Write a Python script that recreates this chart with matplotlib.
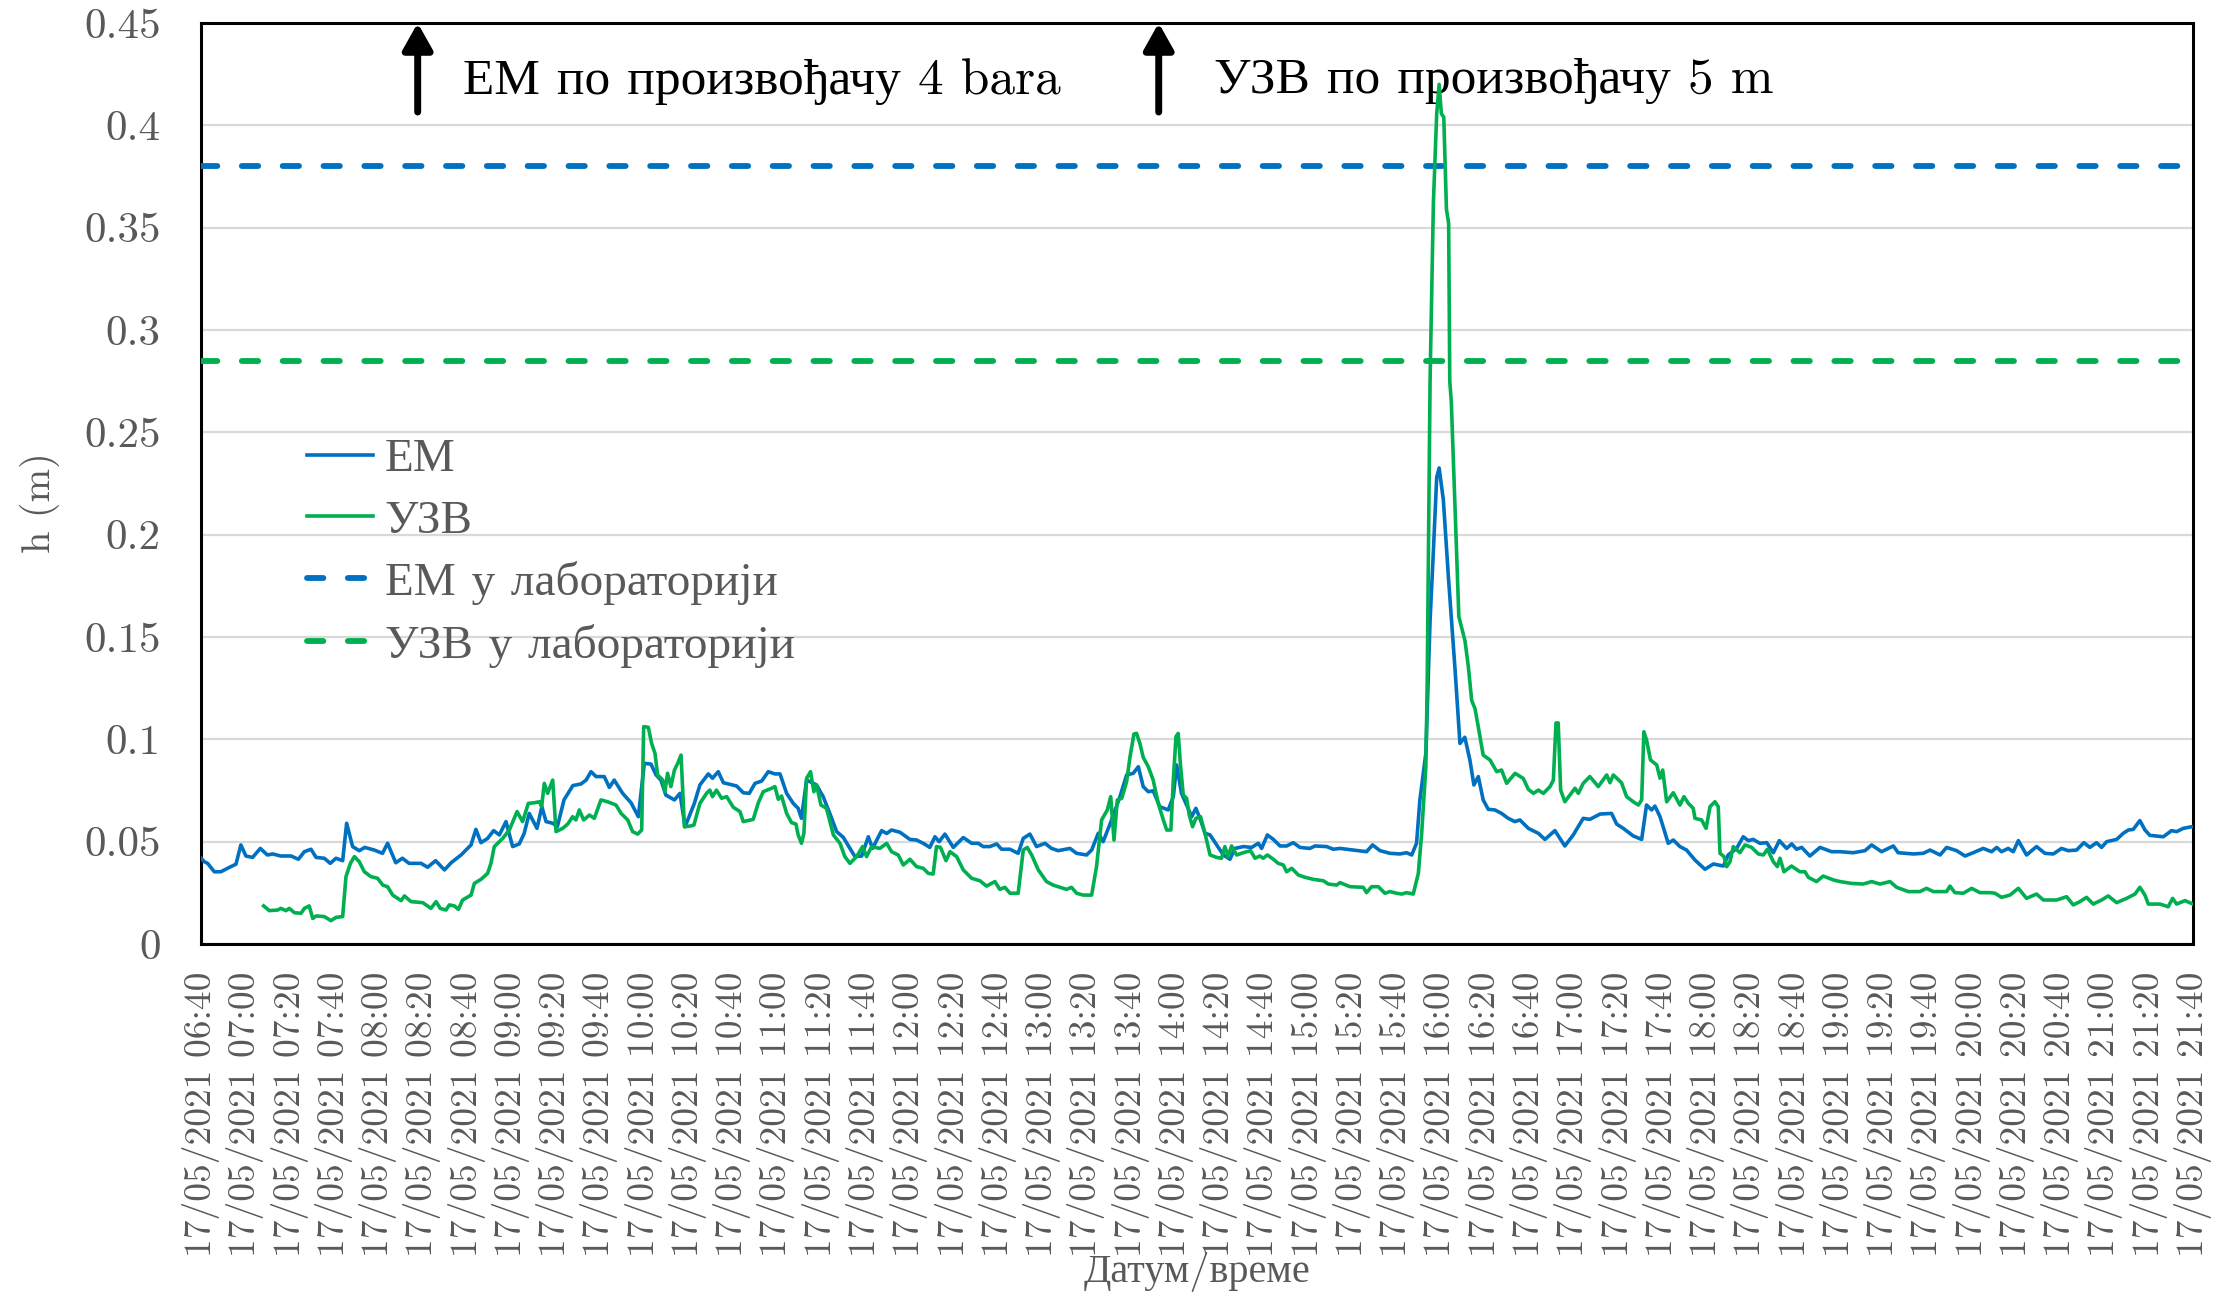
import matplotlib
matplotlib.use("Agg")
import matplotlib.pyplot as plt
import matplotlib.dates as mdates
from datetime import datetime, timedelta

plt.rcParams["font.family"] = ["cmr10", "Liberation Serif"]
plt.rcParams["axes.unicode_minus"] = False

# minutes after 17/05/2021 06:40, and measured depth h (m)
em_min = [0, 1.5, 3, 6, 9, 12, 15.8, 18, 20.3, 23.3, 26.8, 30, 32.4, 36, 40.7, 44, 46.7, 49.7, 52, 55.7,
          58.4, 61, 64, 65.8, 68.5, 71.5, 74, 78.3, 82, 84.3, 88, 91, 94, 99.4, 102.4, 106, 110, 113, 117.5, 122,
          124.2, 126.5, 129.5, 132.2, 134.8, 137.8, 140.8, 143.8, 146, 148.3, 151.8, 154, 155.9, 158.9, 161, 164,
          168, 171.7, 174, 176.2, 178.5, 182.2, 184.5, 186.7, 190.5, 194.3, 197.6, 200.3, 203.3, 205.6, 207.8, 210,
          213.9, 216.4, 218.7, 222.9, 225.4, 229.2, 231.1, 233.7, 236, 242, 245, 247.7, 250.3, 253.3, 256.3, 259.3,
          261.6, 264.6, 267.6, 269.8, 271.3, 273.6, 278.1, 281.1, 284.1, 287.2, 290.2, 293.2, 295.5, 298.5, 301.5,
          303.4, 307.5, 309.8, 312, 315.8, 320.3, 323.3, 326.3, 329.3, 331.6, 333.5, 336.1, 339.9, 344.4, 348.2,
          351.2, 353.4, 356.4, 359.5, 361.7, 365.5, 369.2, 371.5, 374.5, 377.5, 381.3, 384.3, 387.3, 392.6, 395.6,
          400.1, 402.4, 405.4, 407.6, 411.4, 415.2, 418.2, 421.2, 423.5, 425.7, 428, 430.2, 433.2, 437, 439.3,
          440.8, 443, 447.6, 449.5, 451.6, 453.6, 455.9, 458.9, 461.9, 464.9, 467.1, 470.9, 474.7, 477.7, 479.2,
          481.8, 484.5, 487.5, 490.5, 493.5, 496.5, 501, 503.3, 508.6, 511.6, 514.6, 520.6, 526.6, 529.3, 532.7,
          537.2, 541.7, 544.7, 547, 549.2, 550.7, 553.4, 555.3, 556.8, 558.3, 559.4, 561.3, 563.6, 566.5, 568.8,
          571, 573.3, 575.1, 577.1, 579.3, 581.6, 584.6, 587.6, 590.6, 593.6, 595.9, 599.7, 604.2, 607.2, 611.7,
          614, 616.2, 620, 624.5, 627.5, 632.1, 637.3, 639.6, 642.6, 647.1, 650.9, 653.1, 655.4, 656.9, 659.2,
          662.9, 665.2, 668.2, 671.2, 675, 679.5, 683.3, 687.8, 690, 693.8, 696.8, 699.1, 701.3, 704.3, 707.4,
          710.4, 713.1, 716.4, 718.7, 720.9, 723.2, 726.9, 731.5, 736.7, 740.5, 746.5, 751.8, 754.8, 759.3, 764.6,
          766.8, 773.6, 778.1, 781.2, 785.7, 788.7, 793.2, 797, 800.7, 805.2, 809, 811.3, 813.5, 816.5, 818.8,
          821.1, 824.8, 829.3, 833.1, 836.9, 840.6, 843.6, 847.4, 850.7, 853.4, 856.4, 858.7, 861, 865.5, 868.5,
          870.8, 873, 876, 878.3, 880.5, 886.6, 890.3, 892.6, 895.6, 899.4, 900]
em_h = [.042, .0402, .0394, .0353, .0353, .037, .039, .0484, .043, .0423, .0467, .0435, .044, .043, .043, .0414,
        .0451, .0463, .0423, .0419, .0394, .0419, .0407, .059, .0476, .0456, .0472, .0459, .0443, .0492, .0397,
        .0419, .0394, .0394, .0375, .0407, .0362, .0397, .0435, .0484, .056, .0495, .0516, .0554, .0533, .0598,
        .0476, .0489, .054, .0638, .0565, .0671, .0598, .059, .0573, .0704, .0774, .0782, .0801, .0842, .0818,
        .0818, .0765, .0801, .0736, .069, .0622, .0883, .0879, .0826, .0801, .0728, .0704, .0736, .0573, .0687,
        .0777, .0831, .081, .0842, .0788, .0772, .0739, .0736, .0785, .0796, .0842, .0831, .0831, .0736, .0687,
        .0663, .0614, .0801, .0777, .072, .0638, .0549, .0521, .0467, .0427, .043, .0524, .0467, .0554, .054,
        .0557, .0546, .0511, .0508, .0492, .0472, .0524, .05, .0537, .0472, .052, .0492, .0492, .0476, .0476,
        .0489, .0463, .0463, .0443, .0516, .0537, .0476, .0492, .0467, .0456, .0467, .0443, .0435, .0459, .0541,
        .05, .0606, .072, .0826, .0834, .0866, .0769, .0744, .0749, .0671, .0655, .072, .0875, .0736, .0622,
        .0663, .0606, .0541, .0533, .0484, .0435, .0414, .0467, .0476, .0472, .0492, .0467, .0533, .0511, .0479,
        .0479, .0495, .0472, .0467, .0479, .0476, .0463, .0467, .0459, .0451, .0484, .0456, .0443, .044, .0446,
        .0435, .0492, .0704, .0932, .158, .192, .228, .2326, .217, .179, .1355, .098, .101, .0899, .0777, .0818,
        .0704, .0658, .0655, .0638, .0614, .0598, .0606, .0565, .0541, .0511, .0554, .0516, .0479, .0533, .0614,
        .0609, .0635, .0638, .0586, .0565, .0528, .0511, .0679, .0655, .0674, .0622, .0492, .0508, .0476, .0459,
        .041, .0365, .0391, .0381, .0435, .0467, .0524, .0505, .0511, .0492, .0495, .0446, .0505, .0467, .0489,
        .0463, .0472, .043, .0472, .0451, .0451, .0446, .0456, .0484, .0451, .0479, .0446, .044, .0443, .0459,
        .0435, .0472, .0456, .043, .0446, .0467, .0451, .0472, .0451, .0467, .0451, .0505, .0435, .0476, .0443,
        .044, .0467, .0456, .0459, .0495, .0472, .0495, .0472, .05, .0511, .0541, .0557, .056, .0603, .0557,
        .0531, .0524, .0554, .0549, .0565, .0573, .0573]

uzv_min = [28.3, 30.9, 34.6, 36.1, 38.4, 39.9, 42.2, 45.2, 46.7, 48.9, 50.5, 52, 55.7, 58.7, 61, 64, 65.5, 67.5,
           69.3, 71.5, 73.8, 76.8, 79.8, 82.1, 84.3, 86.6, 90.4, 91.9, 94.9, 100.2, 103.9, 106.2, 108.1, 110.7,
           112.2, 114.5, 116.3, 118.2, 122, 123.5, 126.5, 129.5, 131, 132.5, 136.3, 139.3, 142.8, 145.3, 147.9,
           150.6, 152.9, 153.9, 155.1, 156.6, 158.9, 160.4, 163.4, 165.7, 167.9, 169.4, 170.9, 172.9, 175.5,
           177.7, 180.7, 183.7, 187.5, 189.8, 192.8, 195, 197.3, 199.1, 200, 202.1, 203.6, 205.1, 206.3, 208.6,
           209.6, 210.8, 212.3, 213.9, 215.4, 216.9, 218.4, 221.4, 222.7, 225.4, 228.4, 229.9, 231.1, 232.9, 235.2,
           237.5, 240.5, 243.5, 245, 249.5, 251.8, 254, 257.8, 259.3, 260.8, 262.3, 264.6, 266.8, 268.8, 269.8,
           271.3, 272.4, 273.6, 275.4, 276.9, 278.1, 280.1, 282.6, 285.7, 288.7, 290.9, 293.2, 296.2, 298.9, 300.7,
           303, 306.7, 309.8, 312, 315, 317.3, 320.3, 323.3, 326.3, 328.6, 330.8, 332.3, 334.1, 336.6, 338.4,
           341.4, 344.4, 348.2, 351.9, 354.9, 358.7, 360.9, 363.2, 365.5, 369.2, 371.5, 373.3, 375.3, 378.3, 382,
           385, 388.1, 391.1, 393.3, 395.6, 398.6, 402.4, 404.6, 406.9, 409.5, 411, 412.5, 414, 416, 418.2, 419.7,
           421.5, 422.7, 424.2, 425.7, 428, 430.2, 432.5, 434.8, 436.3, 438.2, 439.3, 440.5, 441.5, 442.6, 443.8,
           445.3, 446.5, 448, 449.5, 451.6, 453.6, 455.9, 458.9, 461.1, 462.6, 464.1, 465.6, 467.9, 470.9, 474.2,
           476.2, 478.4, 479.9, 481.8, 484.5, 486.7, 489, 490.5, 492.8, 495.8, 498.8, 502.5, 507.1, 509.3, 513.1,
           514.6, 519.1, 525.1, 526.6, 528.9, 531.9, 534.9, 537.2, 540.2, 542.5, 544.7, 547.7, 550, 551.5, 553.4,
           554, 555.3, 556.8, 558.3, 559.4, 560.4, 561.5, 562.7, 563.7, 564.2, 564.9, 568.3, 571.1, 572.6, 574.1,
           575.6, 577.1, 579.3, 582.4, 585.4, 587.6, 589.9, 593.7, 597.4, 599.7, 602, 604.2, 606.5, 609.5, 611,
           612.2, 613.2, 614.3, 616.2, 618.5, 620.8, 622.3, 624.5, 627.5, 631.3, 635.1, 636.6, 638.1, 641.8,
           644.1, 647.1, 649.4, 650.9, 651.9, 653.1, 654.9, 657.7, 659.2, 660.4, 662.2, 665.2, 668.2, 670, 672,
           674.2, 675, 678, 680, 681.8, 684, 685.5, 686.3, 688.1, 689.3, 690.8, 692.3, 695.3, 697.6, 700.6, 703.6,
           705.9, 707.7, 710.4, 712.2, 713.4, 715.2, 718.6, 722.4, 724.7, 726.2, 729.9, 732.9, 737.5, 740.5,
           745.8, 751, 754.8, 758.6, 763.1, 766.1, 771.4, 776.6, 779.6, 782.7, 788.7, 790.2, 792.4, 796.2, 800,
           803.7, 808.3, 810.5, 813.5, 817.3, 821.1, 824.8, 829.3, 832.4, 838.4, 842.9, 845.9, 848.9, 851.9,
           854.9, 858.7, 861.7, 865.5, 870, 873.8, 876, 878.3, 879.8, 885.1, 888.8, 890.8, 892.6, 896.4, 900]
uzv_h = [.0186, .0163, .0166, .0174, .0163, .0174, .0153, .015, .0174, .0186, .0125, .0137, .0134, .0114, .013,
         .0134, .0329, .0394, .0427, .0402, .0353, .0329, .0321, .0288, .028, .0239, .0212, .0235, .0207, .0202,
         .0174, .0207, .0174, .0166, .0191, .0186, .0169, .0215, .0239, .0296, .0316, .0345, .0394, .0476, .0516,
         .0557, .0647, .0598, .0687, .069, .0695, .0671, .0785, .0736, .0801, .0549, .0565, .0586, .0622, .0606,
         .0655, .0606, .063, .0614, .0704, .0695, .0679, .0638, .0606, .0549, .0537, .0557, .1062, .1059, .098,
         .0932, .0826, .0801, .0744, .0834, .0769, .085, .0883, .0923, .0573, .0577, .0581, .0687, .0736, .0752,
         .072, .0752, .0712, .072, .0668, .0647, .0598, .0609, .069, .0744, .0761, .0769, .0707, .0723, .0638,
         .0593, .0586, .0533, .0492, .0541, .0809, .0842, .0744, .0777, .0679, .0663, .0533, .0492, .0427, .0394,
         .0427, .0476, .0427, .0476, .0467, .0492, .0451, .0435, .0386, .0414, .0378, .037, .0345, .0342, .0476,
         .0472, .0407, .0451, .0427, .0362, .0321, .0309, .0283, .0305, .0267, .0277, .0248, .0248, .0459, .0472,
         .0435, .0362, .0305, .0288, .0277, .0267, .0277, .0248, .0239, .0239, .0378, .0606, .0655, .072, .0508,
         .0704, .0712, .0793, .0912, .1026, .1029, .098, .0912, .0866, .0801, .0687, .0606, .0557, .0557, .0801,
         .1013, .1029, .0866, .0728, .0712, .063, .0573, .0614, .0622, .0541, .0435, .0423, .0419, .0476, .0427,
         .0479, .0435, .0446, .0456, .0419, .043, .0419, .0435, .0414, .0394, .0386, .0353, .037, .0337, .0326,
         .0316, .0309, .0293, .0288, .03, .028, .0277, .0251, .028, .028, .0248, .0256, .0248, .0244, .0251,
         .0244, .0345, .054, .0866, .127, .275, .362, .4057, .42, .4057, .404, .359, .352, .275, .265, .16, .148,
         .1355, .119, .115, .106, .0923, .0899, .0842, .085, .0785, .0834, .0809, .0756, .0736, .0752, .0736,
         .0769, .0801, .108, .108, .0752, .0695, .0728, .0761, .0736, .0785, .0818, .0769, .0826, .0788, .0826,
         .0788, .072, .0695, .0679, .0704, .1037, .0997, .0899, .0875, .081, .085, .0695, .0739, .0679, .072,
         .0687, .0663, .0614, .0606, .0565, .0671, .0695, .0671, .0443, .0427, .0378, .0402, .0476, .0446, .0484,
         .0472, .044, .0435, .0463, .0402, .0378, .0419, .0353, .0381, .0353, .0353, .0326, .0305, .0332, .0313,
         .0305, .0296, .0293, .0305, .0293, .0305, .0277, .0256, .0256, .0272, .0256, .0256, .0283, .0251, .0248,
         .0272, .0251, .0251, .0248, .0228, .0239, .0272, .0223, .0244, .0215, .0215, .0231, .0191, .0207, .0228,
         .0195, .0215, .0235, .0202, .0223, .0244, .0277, .0239, .0195, .0195, .0182, .0223, .0195, .0212, .0195]

em_lab = 0.38      # ЕМ у лабораторији
uzv_lab = 0.285    # УЗВ у лабораторији

y_ticks = [0, 0.05, 0.1, 0.15, 0.2, 0.25, 0.3, 0.35, 0.4, 0.45]
y_labels = ["0", "0.05", "0.1", "0.15", "0.2", "0.25", "0.3", "0.35", "0.4", "0.45"]

# arrows: (arrow minute, text minute, text)
notes = [(97.9, 118.5, "ЕМ по произвођачу 4 bara"), (432.7, 457.7, "УЗВ по произвођачу 5 m")]

blue = "#0070C0"
green = "#00B050"
grey = "#595959"

t0 = datetime(2021, 5, 17, 6, 40)
t_end = t0 + timedelta(minutes=900)
em_t = [t0 + timedelta(minutes=m) for m in em_min]
uzv_t = [t0 + timedelta(minutes=m) for m in uzv_min]

fig = plt.figure(figsize=(22.21, 12.96), dpi=100)
ax = fig.add_axes([201 / 2221, 1 - 944 / 1296, 1992 / 2221, 921 / 1296])

ax.plot(em_t, em_h, color=blue, lw=2.6, label="ЕМ", zorder=4)
ax.plot(uzv_t, uzv_h, color=green, lw=2.6, label="УЗВ", zorder=4)
ax.plot([t0, t_end], [em_lab, em_lab], color=blue, lw=4.2, ls=(0, (2.8, 4.2)),
        dash_capstyle="round", label="ЕМ у лабораторији", zorder=3)
ax.plot([t0, t_end], [uzv_lab, uzv_lab], color=green, lw=4.2, ls=(0, (2.8, 4.2)),
        dash_capstyle="round", label="УЗВ у лабораторији", zorder=3)

ax.set_xlim(t0, t_end)
ax.set_ylim(0, 0.45)
ax.set_yticks(y_ticks)
ax.set_yticklabels(y_labels)
ax.yaxis.grid(True, color="#D9D9D9", lw=1.6)
ax.set_axisbelow(True)

ax.xaxis.set_major_locator(mdates.MinuteLocator(byminute=[0, 20, 40]))
ax.xaxis.set_major_formatter(mdates.DateFormatter("%d/%m/%Y %H:%M"))
ax.tick_params(axis="x", length=0, pad=20, labelsize=27, labelcolor=grey, labelrotation=90)
ax.tick_params(axis="y", length=0, pad=29, labelsize=31, labelcolor=grey)

for s in ax.spines.values():
    s.set_color("black")
    s.set_linewidth(2.2)

for m, mt, txt in notes:
    x = t0 + timedelta(minutes=m)
    ax.annotate("", xy=(x, 0.45), xytext=(x, 0.4065),
                arrowprops=dict(arrowstyle="-|>,head_width=0.45,head_length=0.8",
                                mutation_scale=20, lw=5, color="black", shrinkA=0, shrinkB=0))
    ax.text(t0 + timedelta(minutes=mt), 0.4215, txt, fontsize=37, color="black",
            ha="left", va="center")

leg = ax.legend(loc="upper left", bbox_to_anchor=(0.0436, 0.5695), frameon=False, fontsize=34,
                handlelength=1.41, handletextpad=0.24, labelspacing=0.405, borderaxespad=0)
for t in leg.get_texts():
    t.set_color(grey)

fig.text(40 / 2221, 1 - 503 / 1296, "h (m)", rotation=90, ha="center", va="center",
         fontsize=29, color=grey)
fig.text(1197 / 2221, 1 - 1272 / 1296, "Датум/време", ha="center", va="center",
         fontsize=29, color=grey)

fig.savefig("out.png", dpi=100)
